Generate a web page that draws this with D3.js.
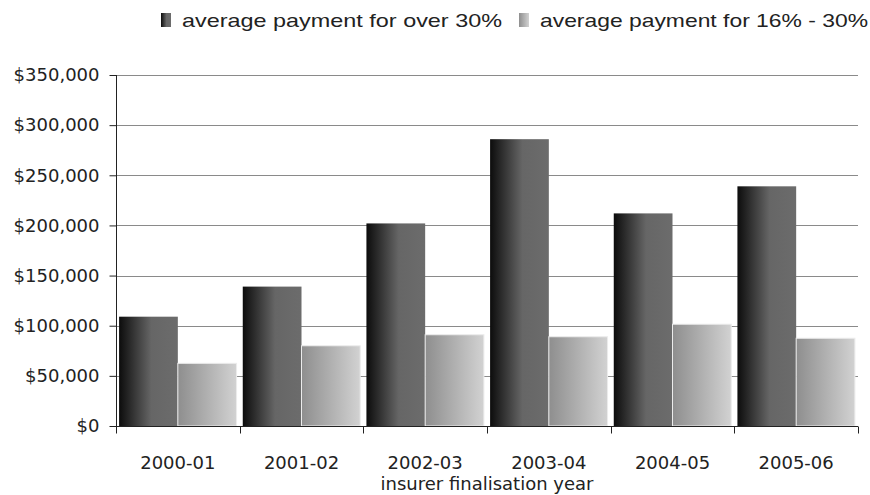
<!DOCTYPE html>
<html>
<head>
<meta charset="utf-8">
<script src="https://d3js.org/d3.v7.min.js"></script>
<style>
  body { margin: 0; background: #fff; }
  text { font-family: "DejaVu Sans", sans-serif; fill: #222; }
</style>
</head>
<body>
<div id="chart"></div>
<script>
// data
const years = ["2000-01", "2001-02", "2002-03", "2003-04", "2004-05", "2005-06"];
const seriesNames = ["average payment for over 30%", "average payment for 16% - 30%"];
const over30 = [109000, 139000, 202000, 286000, 212000, 239000];
const from16to30 = [62500, 80000, 91000, 89000, 101500, 87500];
const yTicks = [0, 50000, 100000, 150000, 200000, 250000, 300000, 350000];

const width = 870, height = 495;
const margin = { top: 75, right: 12, bottom: 69, left: 116 };

const svg = d3.select("#chart").append("svg")
  .attr("width", width)
  .attr("height", height);

// gradients for the two series
const defs = svg.append("defs");
const gDark = defs.append("linearGradient").attr("id", "gDark");
gDark.append("stop").attr("offset", "0%").attr("stop-color", "#0c0c0c");
gDark.append("stop").attr("offset", "55%").attr("stop-color", "#666");
gDark.append("stop").attr("offset", "100%").attr("stop-color", "#6c6c6c");
const gLight = defs.append("linearGradient").attr("id", "gLight");
gLight.append("stop").attr("offset", "0%").attr("stop-color", "#8e8e8e");
gLight.append("stop").attr("offset", "100%").attr("stop-color", "#d2d2d2");
const fills = ["url(#gDark)", "url(#gLight)"];

const y = d3.scaleLinear()
  .domain([0, 350000])
  .range([height - margin.bottom, margin.top]);

const x0 = d3.scaleBand()
  .domain(years)
  .range([margin.left, width - margin.right])
  .paddingInner(0.05)
  .paddingOuter(0.025);

const x1 = d3.scaleBand()
  .domain([0, 1])
  .range([0, x0.bandwidth()]);

// gridlines
svg.append("g")
  .selectAll("line")
  .data(yTicks.slice(1))
  .join("line")
  .attr("x1", margin.left)
  .attr("x2", width - margin.right)
  .attr("y1", d => Math.round(y(d)) + 0.5)
  .attr("y2", d => Math.round(y(d)) + 0.5)
  .attr("stroke", "#8a8a8a")
  .attr("stroke-width", 1);

// bars
const rows = years.map((yr, i) => ({ yr, vals: [over30[i], from16to30[i]] }));
const groups = svg.append("g")
  .selectAll("g")
  .data(rows)
  .join("g")
  .attr("transform", d => `translate(${x0(d.yr)},0)`);

groups.selectAll("rect")
  .data(d => d.vals.map((v, k) => ({ v, k })))
  .join("rect")
  .attr("x", d => x1(d.k))
  .attr("y", d => y(d.v))
  .attr("width", x1.bandwidth())
  .attr("height", d => y(0) - y(d.v))
  .attr("fill", d => fills[d.k])
  .attr("stroke", d => d.k === 1 ? "#ececec" : "none")
  .attr("stroke-width", 1);

// y axis
const yAxis = svg.append("g")
  .attr("transform", `translate(${margin.left + 0.5},0)`)
  .call(d3.axisLeft(y).tickValues(yTicks).tickSize(7).tickPadding(10)
    .tickFormat(d => "$" + d3.format(",")(d)));
yAxis.select(".domain").attr("stroke", "#222").attr("d", `M-0,${margin.top}V${y(0)}`);
yAxis.selectAll(".tick line").attr("stroke", "#222");
yAxis.selectAll("text").style("font-size", "18px").attr("fill", "#222");

// x axis with ticks at category boundaries
const xAxisG = svg.append("g").attr("transform", `translate(0,${Math.round(y(0)) + 0.5})`);
xAxisG.append("line")
  .attr("x1", margin.left).attr("x2", width - margin.right)
  .attr("stroke", "#222");
const step = x0.step();
const bounds = years.map(yr => x0(yr) - step * x0.paddingInner() / 2);
bounds.push(width - margin.right);
xAxisG.selectAll(".xt")
  .data(bounds)
  .join("line")
  .attr("class", "xt")
  .attr("x1", d => Math.round(d) + 0.5).attr("x2", d => Math.round(d) + 0.5)
  .attr("y1", 0).attr("y2", 7)
  .attr("stroke", "#222");
xAxisG.selectAll(".xl")
  .data(years)
  .join("text")
  .attr("class", "xl")
  .attr("x", d => x0(d) + x0.bandwidth() / 2)
  .attr("y", 42)
  .attr("text-anchor", "middle")
  .style("font-size", "18px")
  .text(d => d);

svg.append("text")
  .attr("x", (margin.left + width - margin.right) / 2)
  .attr("y", 490)
  .attr("text-anchor", "middle")
  .style("font-size", "18px")
  .text("insurer finalisation year");

// legend
const legendX = [161, 519];
const legendW = [320, 328];
const legend = svg.append("g")
  .selectAll("g")
  .data(seriesNames)
  .join("g")
  .attr("transform", (d, i) => `translate(${legendX[i]},13)`);
legend.append("rect")
  .attr("width", 10).attr("height", 14)
  .attr("fill", (d, i) => fills[i]);
legend.append("text")
  .attr("x", 21).attr("y", 14)
  .attr("textLength", (d, i) => legendW[i])
  .attr("lengthAdjust", "spacingAndGlyphs")
  .style("font-family", "'Liberation Sans', sans-serif")
  .style("font-size", "19px")
  .text(d => d);
</script>
</body>
</html>
